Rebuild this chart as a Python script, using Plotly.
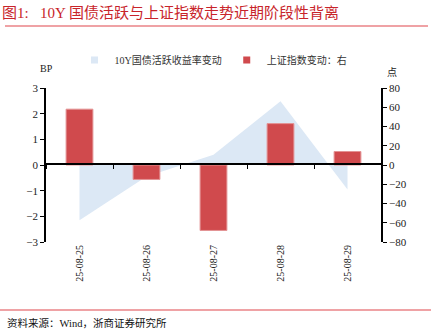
import plotly.graph_objects as go

dates = ["25-08-25", "25-08-26", "25-08-27", "25-08-28", "25-08-29"]
yield_chg_bp = [-2.15, -0.45, 0.4, 2.48, -0.95]
index_chg_pts = [58, -15, -68, 43, 14]

SERIF = "Times New Roman, Liberation Serif, Noto Sans CJK SC, serif"
RED = "#C8242A"
AREA_BLUE = "rgba(220,232,245,1)"
BAR_RED = "#D04A4D"

fig = go.Figure()

fig.add_trace(go.Scatter(
    x=dates, y=yield_chg_bp, name="10Y国债活跃收益率变动", showlegend=False,
    mode="lines", fill="tozeroy", line=dict(width=0, color=AREA_BLUE),
    fillcolor=AREA_BLUE, xaxis="x", yaxis="y",
))
fig.add_trace(go.Bar(
    x=dates, y=index_chg_pts, name="上证指数变动：右", showlegend=False,
    marker=dict(color=BAR_RED, line=dict(color="#E39394", width=1)),
    width=0.4, xaxis="x2", yaxis="y2",
))

# small square legend keys
for name, col in [("10Y国债活跃收益率变动", AREA_BLUE), ("上证指数变动：右", BAR_RED)]:
    fig.add_trace(go.Scatter(x=[None], y=[None], mode="markers", name=name,
                             marker=dict(symbol="square", size=7, color=col),
                             xaxis="x", yaxis="y"))

dom_bottom = 91 / 333
dom_top = 1 - 88 / 333

fig.update_layout(
    width=431, height=333,
    margin=dict(l=46, r=50, t=88, b=91),
    paper_bgcolor="white", plot_bgcolor="white",
    font=dict(family=SERIF, size=10, color="#222"),
    showlegend=True,
    legend=dict(orientation="h", x=0.5, xanchor="center", y=1 + (88 - 60) / 154, yanchor="middle",
                font=dict(size=10, color="#333"), traceorder="normal",
                bgcolor="rgba(0,0,0,0)"),
    xaxis=dict(type="category", range=[-0.5, 4.5], showline=False, ticks="",
               tickangle=-90, tickfont=dict(size=10), showgrid=False, zeroline=False),
    # second category axis drawn along the zero level, with ticks between dates
    xaxis2=dict(type="category", range=[-0.5, 4.5], overlaying="x", anchor="free",
                position=dom_bottom + 0.5 * (dom_top - dom_bottom),
                showline=True, linecolor="black", linewidth=1.5,
                ticks="outside", ticklen=4, tickcolor="black", tickson="boundaries",
                showticklabels=False, showgrid=False, side="bottom"),
    yaxis=dict(range=[-3, 3], dtick=1, showline=True, linecolor="black", linewidth=1.5,
               ticks="outside", ticklen=4, tickcolor="black", showgrid=False, zeroline=False,
               tickfont=dict(size=11)),
    yaxis2=dict(range=[-80, 80], dtick=20, overlaying="y", side="right", showline=True,
                linecolor="black", linewidth=1.5, ticks="outside", ticklen=4,
                tickcolor="black", showgrid=False, zeroline=False, tickfont=dict(size=11)),
)

fig.add_annotation(text="图1:   10Y 国债活跃与上证指数走势近期阶段性背离", xref="paper", yref="paper",
                   x=-46 / 335, y=1 + (88 - 13) / 154, xanchor="left", yanchor="middle",
                   showarrow=False, font=dict(size=15, color=RED, family=SERIF))
fig.add_annotation(text="BP", xref="paper", yref="paper", x=0.0, y=1 + 20 / 154,
                   xanchor="center", yanchor="middle", showarrow=False, font=dict(size=10))
fig.add_annotation(text="点", xref="paper", yref="paper", x=1 + 11 / 335, y=1 + 16 / 154,
                   xanchor="center", yanchor="middle", showarrow=False, font=dict(size=10))
fig.add_annotation(text="资料来源：Wind，浙商证券研究所", xref="paper", yref="paper",
                   x=-41 / 335, y=-(323 - 242) / 154, xanchor="left", yanchor="middle",
                   showarrow=False, font=dict(size=10.5, color="#111"))

fig.add_shape(type="line", xref="paper", yref="paper", x0=-41 / 335, x1=1 + 47 / 335,
              y0=1 + (88 - 26) / 154, y1=1 + (88 - 26) / 154, line=dict(color="#E0474C", width=1.2))
fig.add_shape(type="line", xref="paper", yref="paper", x0=-46 / 335, x1=1 + 50 / 335,
              y0=-(310 - 242) / 154, y1=-(310 - 242) / 154, line=dict(color="#E0474C", width=1.2))

fig.write_html("out.html")
